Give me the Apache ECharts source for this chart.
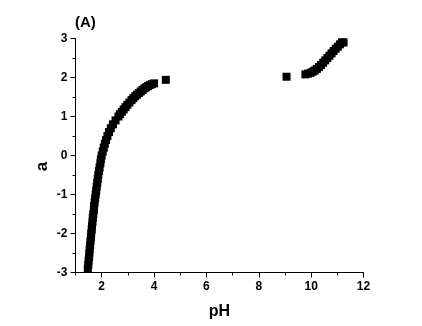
<!DOCTYPE html>
<html>
<head>
<meta charset="utf-8">
<script src="https://cdn.jsdelivr.net/npm/echarts@6/dist/echarts.min.js"></script>
<style>
  html, body { margin: 0; padding: 0; background: #fff; }
  #chart { width: 422px; height: 326px; }
</style>
</head>
<body>
<div id="chart"></div>
<script>
// Acidic branch: pH and a values
const acidPH = [1.47, 1.49, 1.50, 1.52, 1.53, 1.54, 1.56, 1.57, 1.59, 1.60,
  1.62, 1.63, 1.65, 1.66, 1.68, 1.70, 1.71, 1.73, 1.75, 1.77,
  1.79, 1.81, 1.83, 1.85, 1.87, 1.90, 1.92, 1.95, 1.97, 2.00,
  2.04, 2.08, 2.12, 2.17, 2.22, 2.28, 2.35, 2.43, 2.53, 2.64,
  2.70, 2.77, 2.84, 2.91, 2.98, 3.06, 3.14, 3.21, 3.28, 3.35,
  3.42, 3.49, 3.56, 3.63, 3.70, 3.77, 3.85, 3.92, 4.00, 4.45];
const acidA = [-2.9, -2.8, -2.7, -2.6, -2.5, -2.4, -2.3, -2.2, -2.1, -2.0,
  -1.9, -1.8, -1.7, -1.6, -1.5, -1.4, -1.3, -1.2, -1.1, -1.0,
  -0.9, -0.8, -0.7, -0.6, -0.5, -0.4, -0.3, -0.2, -0.1, 0.0,
  0.1, 0.2, 0.3, 0.4, 0.5, 0.6, 0.7, 0.8, 0.9, 1.0,
  1.06, 1.12, 1.18, 1.24, 1.30, 1.36, 1.42, 1.47, 1.52, 1.56,
  1.60, 1.64, 1.68, 1.72, 1.75, 1.78, 1.81, 1.83, 1.85, 1.94];

// Alkaline branch: pH and a values
const basePH = [9.06, 9.78, 9.88, 9.98, 10.06, 10.14, 10.22, 10.30, 10.38, 10.46,
  10.54, 10.62, 10.70, 10.78, 10.86, 10.94, 11.02, 11.10, 11.18, 11.24];
const baseA = [2.02, 2.08, 2.10, 2.12, 2.15, 2.18, 2.22, 2.27, 2.32, 2.38,
  2.44, 2.50, 2.56, 2.62, 2.68, 2.74, 2.79, 2.85, 2.90, 2.90];

const majorX = [2, 4, 6, 8, 10, 12];
const minorX = [1, 3, 5, 7, 9, 11];

const pairs = (xs, ys) => xs.map((x, i) => [x, ys[i]]);

const font = 'Liberation Sans, Arial, sans-serif';
const axisLine = { show: true, onZero: false, lineStyle: { color: '#000', width: 1 } };
const marker = { symbol: 'rect', symbolSize: 8, itemStyle: { color: '#000', opacity: 1 } };

const chart = echarts.init(document.getElementById('chart'), null, { renderer: 'canvas' });
chart.setOption({
  animation: false,
  backgroundColor: '#fff',
  title: {
    text: '(A)',
    left: 70,
    top: 10,
    textStyle: { fontFamily: font, fontWeight: 'bold', fontSize: 15, color: '#000' }
  },
  grid: { left: 75.5, right: 58.5, top: 38.5, bottom: 53.5, containLabel: false },
  xAxis: [
    {
      type: 'value', min: 1, max: 12, interval: 1,
      name: 'pH', nameLocation: 'middle', nameGap: 31,
      nameTextStyle: { fontFamily: font, fontWeight: 'bold', fontSize: 16, color: '#000' },
      axisLine: axisLine,
      axisTick: { show: true, length: 5, customValues: majorX, lineStyle: { color: '#000' } },
      axisLabel: { margin: 8, customValues: majorX, fontFamily: font, fontWeight: 'bold', fontSize: 12, color: '#000' },
      splitLine: { show: false }
    },
    {
      // minor ticks at odd pH values
      type: 'value', min: 1, max: 12, interval: 1, position: 'bottom',
      axisLine: { show: false, onZero: false },
      axisTick: { show: true, length: 3, customValues: minorX, lineStyle: { color: '#000' } },
      axisLabel: { show: false },
      splitLine: { show: false }
    }
  ],
  yAxis: {
    type: 'value', min: -3, max: 3, interval: 1,
    name: 'a', nameLocation: 'middle', nameGap: 25, nameRotate: 90, nameMoveOverlap: false,
    nameTextStyle: { fontFamily: font, fontWeight: 'bold', fontSize: 17, color: '#000', padding: [0, 22, 0, 0] },
    axisLine: axisLine,
    axisTick: { show: true, length: 5, lineStyle: { color: '#000' } },
    minorTick: { show: true, splitNumber: 2, length: 3, lineStyle: { color: '#000' } },
    axisLabel: { margin: 8, fontFamily: font, fontWeight: 'bold', fontSize: 12, color: '#000' },
    splitLine: { show: false }
  },
  series: [
    Object.assign({ type: 'scatter', xAxisIndex: 0, data: pairs(acidPH, acidA) }, marker),
    Object.assign({ type: 'scatter', xAxisIndex: 0, data: pairs(basePH, baseA) }, marker)
  ]
});
</script>
</body>
</html>
